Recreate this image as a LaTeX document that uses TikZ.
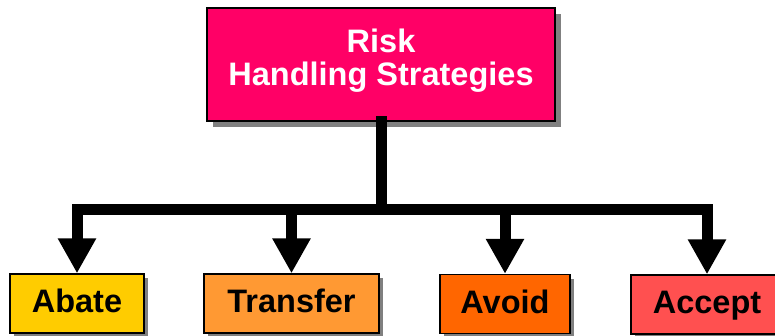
\documentclass[tikz,border=0pt]{standalone}
\usepackage{fontspec}
\setmainfont{Liberation Sans}
\usetikzlibrary{arrows.meta, shadows, positioning}
\definecolor{riskpink}{HTML}{FF0066}
\definecolor{abatecol}{HTML}{FFCC00}
\definecolor{transfercol}{HTML}{FF9933}
\definecolor{avoidcol}{HTML}{FF6600}
\definecolor{acceptcol}{HTML}{FF5050}
\tikzstyle{topbox} = [rectangle, minimum width=348pt, minimum height=113pt, inner sep=0pt, align=center, text depth=15pt, draw=black, line width=1.3pt, fill=riskpink, text=white, font=\fontsize{32.5}{33}\selectfont\bfseries, drop shadow={shadow xshift=6pt, shadow yshift=-6pt, fill=black!50, opacity=1}]
\tikzstyle{strategy} = [rectangle, minimum height=59pt, inner sep=0pt, text height=23.5pt, text depth=5pt, draw=black, line width=1.3pt, font=\fontsize{32.5}{33}\selectfont\bfseries, drop shadow={shadow xshift=4pt, shadow yshift=-4pt, fill=black!50, opacity=1}]
\tikzstyle{bar} = [line width=11pt, line cap=rect]
\tikzstyle{barrow} = [line width=11pt, -{Triangle[width=36pt, length=35pt]}]

\begin{document}
\begin{tikzpicture}[x=1pt, y=-1pt]
\useasboundingbox (0,0) rectangle (775,335);
\node (risk) [topbox] at (381,64.5) {Risk\\Handling Strategies};
\node (abate) [strategy, fill=abatecol, minimum width=134pt] at (77,303.5) {Abate};
\node (transfer) [strategy, fill=transfercol, minimum width=175pt] at (291.5,303.5) {Transfer};
\node (avoid) [strategy, fill=avoidcol, minimum width=130pt] at (505,304) {Avoid};
\node (accept) [strategy, fill=acceptcol, minimum width=152pt] at (707,304.5) {Accept};
\coordinate (jabate) at (77,209);
\coordinate (jtransfer) at (291.5,209);
\coordinate (javoid) at (505,209);
\coordinate (jaccept) at (707,209);
\draw [bar] (risk.south) -- (risk.south |- jabate);
\draw [bar] (jabate) -- (jaccept);
\foreach \n in {abate,transfer,avoid,accept}
  \draw [barrow] (j\n) -- (\n.north);
\end{tikzpicture}
\end{document}
